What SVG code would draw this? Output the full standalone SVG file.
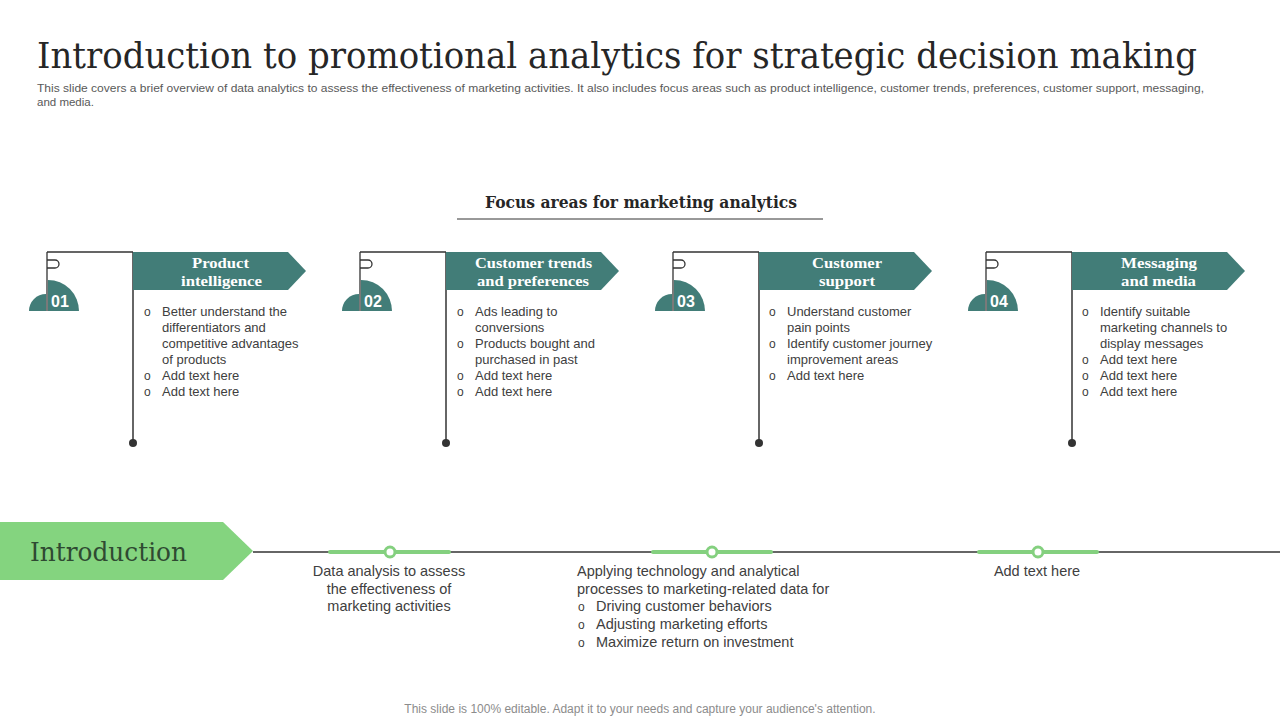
<svg xmlns="http://www.w3.org/2000/svg" width="1280" height="720" viewBox="0 0 1280 720">
<defs>
<style>
.title{font-family:"DejaVu Serif","Liberation Serif",serif;font-size:35px;fill:#262626}
.sub{font-family:"Liberation Sans",Arial,sans-serif;font-size:11.5px;fill:#595959}
.focus{font-family:"DejaVu Serif","Liberation Serif",serif;font-size:17px;font-weight:bold;fill:#262626}
.ban{font-family:"Liberation Serif",serif;font-size:15.5px;font-weight:bold;fill:#ffffff}
.num{font-family:"Liberation Sans",Arial,sans-serif;font-size:16px;font-weight:bold;fill:#ffffff}
.body{font-family:"Liberation Sans",Arial,sans-serif;font-size:13px;fill:#404040}
.tl{font-family:"Liberation Sans",Arial,sans-serif;font-size:14.5px;fill:#404040}
.foot{font-family:"Liberation Sans",Arial,sans-serif;font-size:12px;fill:#8c8c8c}
.teal{fill:#427d78}
.ln{stroke:#333333;stroke-width:1.3;fill:none}
.gseg{stroke:#84d07f;stroke-width:4;stroke-linecap:round}
.gdot{fill:#ffffff;stroke:#84d07f;stroke-width:3}
</style>
<g id="flag">
<path class="ln" d="M0,0 V59 M0,0 H86 M0,8 H8 a4,4 0 0 1 0,8 H0"/>
<path class="teal" d="M1,59 V28 A31,31 0 0 1 32,59 Z"/>
<path class="teal" d="M-1,59 V42 A17,17 0 0 0 -18,59 Z"/>
<line x1="86" y1="0" x2="86" y2="191" stroke="#333333" stroke-width="1.5"/>
<circle cx="86" cy="191" r="4" fill="#333333"/>
<path class="teal" d="M86,0 H241 L259,19 L241,38 H86 Z"/>
</g>
</defs>

<text class="title" x="37" y="68" textLength="1160" lengthAdjust="spacingAndGlyphs">Introduction to promotional analytics for strategic decision making</text>
<text class="sub" x="37" y="92" textLength="1167" lengthAdjust="spacingAndGlyphs">This slide covers a brief overview of data analytics to assess the effectiveness of marketing activities. It also includes focus areas such as product intelligence, customer trends, preferences, customer support, messaging,</text>
<text class="sub" x="37" y="106">and media.</text>

<g id="focus-heading">
<text class="focus" x="485" y="208" textLength="312" lengthAdjust="spacingAndGlyphs">Focus areas for marketing analytics</text>
<line x1="457" y1="219" x2="823" y2="219" stroke="#333333" stroke-width="1"/>
</g>

<g id="node1" transform="translate(47,252)">
<use href="#flag"/>
<text class="num" x="13" y="55" text-anchor="middle">01</text>
<text class="ban" x="145" y="16" textLength="57" lengthAdjust="spacingAndGlyphs">Product</text>
<text class="ban" x="134" y="34" textLength="81" lengthAdjust="spacingAndGlyphs">intelligence</text>
<g class="body">
<text x="97" y="64" font-size="12">o</text><text x="115" y="64">Better understand the</text>
<text x="115" y="80">differentiators  and</text>
<text x="115" y="96">competitive  advantages</text>
<text x="115" y="112">of products</text>
<text x="97" y="128" font-size="12">o</text><text x="115" y="128">Add text here</text>
<text x="97" y="144" font-size="12">o</text><text x="115" y="144">Add text here</text>
</g>
</g>

<g id="node2" transform="translate(360,252)">
<use href="#flag"/>
<text class="num" x="13" y="55" text-anchor="middle">02</text>
<text class="ban" x="115" y="16" textLength="117" lengthAdjust="spacingAndGlyphs">Customer trends</text>
<text class="ban" x="117" y="34" textLength="112" lengthAdjust="spacingAndGlyphs">and preferences</text>
<g class="body">
<text x="97" y="64" font-size="12">o</text><text x="115" y="64">Ads leading to</text>
<text x="115" y="80">conversions</text>
<text x="97" y="96" font-size="12">o</text><text x="115" y="96">Products bought and</text>
<text x="115" y="112">purchased in past</text>
<text x="97" y="128" font-size="12">o</text><text x="115" y="128">Add text here</text>
<text x="97" y="144" font-size="12">o</text><text x="115" y="144">Add text here</text>
</g>
</g>

<g id="node3" transform="translate(673,252)">
<use href="#flag"/>
<text class="num" x="13" y="55" text-anchor="middle">03</text>
<text class="ban" x="139" y="16" textLength="70" lengthAdjust="spacingAndGlyphs">Customer</text>
<text class="ban" x="146" y="34" textLength="56" lengthAdjust="spacingAndGlyphs">support</text>
<g class="body">
<text x="96" y="64" font-size="12">o</text><text x="114" y="64">Understand  customer</text>
<text x="114" y="80">pain  points</text>
<text x="96" y="96" font-size="12">o</text><text x="114" y="96">Identify  customer journey</text>
<text x="114" y="112">improvement  areas</text>
<text x="96" y="128" font-size="12">o</text><text x="114" y="128">Add text here</text>
</g>
</g>

<g id="node4" transform="translate(986,252)">
<use href="#flag"/>
<text class="num" x="13" y="55" text-anchor="middle">04</text>
<text class="ban" x="135" y="16" textLength="76" lengthAdjust="spacingAndGlyphs">Messaging</text>
<text class="ban" x="135" y="34" textLength="75" lengthAdjust="spacingAndGlyphs">and media</text>
<g class="body">
<text x="96" y="64" font-size="12">o</text><text x="114" y="64">Identify suitable</text>
<text x="114" y="80">marketing channels to</text>
<text x="114" y="96">display messages</text>
<text x="96" y="112" font-size="12">o</text><text x="114" y="112">Add text here</text>
<text x="96" y="128" font-size="12">o</text><text x="114" y="128">Add text here</text>
<text x="96" y="144" font-size="12">o</text><text x="114" y="144">Add text here</text>
</g>
</g>

<g id="connectors">
<line x1="253" y1="552" x2="1280" y2="552" stroke="#333333" stroke-width="1.3"/>
<line class="gseg" x1="330" y1="552" x2="449" y2="552"/>
<line class="gseg" x1="653" y1="552" x2="771" y2="552"/>
<line class="gseg" x1="979" y1="552" x2="1097" y2="552"/>
</g>

<g id="introduction">
<path d="M0,522 H223 L253,551 L223,580 H0 Z" fill="#84d47f"/>
<text x="30" y="561" font-family="DejaVu Serif,Liberation Serif,serif" font-size="26" fill="#2f4a32" textLength="157" lengthAdjust="spacingAndGlyphs">Introduction</text>
</g>

<g id="milestone1">
<circle class="gdot" cx="390" cy="552" r="5"/>
<g class="tl" text-anchor="middle">
<text x="389" y="576">Data analysis to assess</text>
<text x="389" y="594">the effectiveness of</text>
<text x="389" y="611">marketing activities</text>
</g>
</g>

<g id="milestone2">
<circle class="gdot" cx="712" cy="552" r="5"/>
<g class="tl">
<text x="577" y="576">Applying technology and analytical</text>
<text x="577" y="594">processes to marketing-related data for</text>
<text x="578" y="611" font-size="12">o</text><text x="596" y="611">Driving customer behaviors</text>
<text x="578" y="629" font-size="12">o</text><text x="596" y="629">Adjusting marketing efforts</text>
<text x="578" y="647" font-size="12">o</text><text x="596" y="647">Maximize return on investment</text>
</g>
</g>

<g id="milestone3">
<circle class="gdot" cx="1038" cy="552" r="5"/>
<text class="tl" x="1037" y="576" text-anchor="middle">Add text here</text>
</g>

<text class="foot" x="640" y="713" text-anchor="middle">This slide is 100% editable. Adapt it to your needs and capture your audience's attention.</text>
</svg>
